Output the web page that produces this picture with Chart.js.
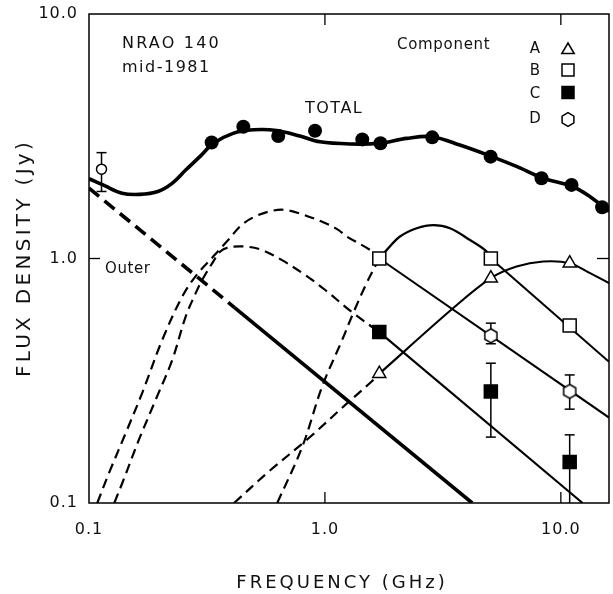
<!DOCTYPE html>
<html><head><meta charset="utf-8">
<script src="https://cdn.jsdelivr.net/npm/chart.js@4.4.1/dist/chart.umd.min.js"></script>
<style>html,body{margin:0;padding:0;background:#fff}#wrap{width:613px;height:594px;position:relative}</style>
</head><body><div id="wrap"><canvas id="c" width="613" height="594"></canvas></div>
<script>
// ---- axis ticks ----
const xTickValues = [0.1, 1, 10];
const xTickLabels = ['0.1', '1.0', '10.0'];
const yTickValues = [0.1, 1, 10];
const yTickLabels = ['0.1', '1.0', '10.0'];

// ---- TOTAL measurements (filled circles) ----
const totalFreq = [0.331, 0.451, 0.634, 0.908, 1.44, 1.72, 2.85, 5.04, 8.28, 11.1, 14.96];
const totalFlux = [2.98, 3.46, 3.17, 3.33, 3.07, 2.96, 3.13, 2.61, 2.13, 2.00, 1.62];
// low-frequency open circle with error bar
const lowFreq = [0.113];
const lowFlux = [2.32];
const lowErrLo = [1.88];
const lowErrHi = [2.71];

// ---- TOTAL model curve ----
const totalCurveFreq = [0.1, 0.117, 0.138, 0.164, 0.196, 0.225, 0.257, 0.295, 0.337, 0.408, 0.497, 0.624, 0.783, 0.953, 1.28, 1.71, 2.22, 2.85, 3.73, 5.0, 6.49, 8.41, 11.2, 13.3, 16.0];
const totalCurveFlux = [2.12, 1.98, 1.85, 1.83, 1.88, 2.03, 2.30, 2.61, 2.96, 3.25, 3.36, 3.34, 3.17, 3.00, 2.94, 2.96, 3.10, 3.15, 2.91, 2.63, 2.38, 2.13, 1.97, 1.79, 1.56];

// ---- Outer component ----
const outerDashFreq = [0.1, 0.414];
const outerDashFlux = [1.94, 0.630];
const outerSolidFreq = [0.414, 4.21];
const outerSolidFlux = [0.630, 0.1];

// ---- Component A (triangles) ----
const aFreq = [1.7, 5.05, 10.9];
const aFlux = [0.338, 0.831, 0.957];
const aDashFreq = [0.412, 0.579, 0.855, 1.243, 1.578, 1.7];
const aDashFlux = [0.1, 0.1346, 0.1844, 0.256, 0.314, 0.338];
const aSolidFreq = [1.7, 3.50, 5.05, 6.49, 8.41, 10.9, 13.3, 16.0];
const aSolidFlux = [0.338, 0.627, 0.831, 0.927, 0.972, 0.957, 0.871, 0.793];

// ---- Component B (open squares) ----
const bFreq = [1.7, 5.05, 10.9];
const bFlux = [1.0, 1.0, 0.532];
const bDashFreq = [0.628, 0.802, 0.974, 1.184, 1.318, 1.502, 1.7];
const bDashFlux = [0.1, 0.170, 0.300, 0.465, 0.598, 0.793, 1.0];
const bHumpFreq = [1.7, 1.83, 2.08, 2.45, 2.88, 3.39, 4.12, 4.84, 5.05];
const bHumpFlux = [1.0, 1.085, 1.23, 1.33, 1.37, 1.33, 1.19, 1.07, 1.0];
const bLineFreq = [5.05, 16.0];
const bLineFlux = [1.0, 0.378];

// ---- Component C (filled squares) ----
const cFreq = [1.7, 5.05, 10.9];
const cFlux = [0.50, 0.286, 0.147];
const cErrFreq = [5.05, 10.9];
const cErrLo = [0.186, 0.1];
const cErrHi = [0.373, 0.19];
const cDashFreq = [0.128, 0.1384, 0.1628, 0.1917, 0.2254, 0.2569, 0.2833, 0.302, 0.333, 0.359, 0.389, 0.458, 0.539, 0.655, 0.823, 1.0, 1.318, 1.7];
const cDashFlux = [0.1, 0.1207, 0.1815, 0.2644, 0.385, 0.579, 0.722, 0.818, 0.957, 1.065, 1.109, 1.119, 1.085, 0.987, 0.857, 0.745, 0.598, 0.50];
const cSolidFreq = [1.7, 12.36];
const cSolidFlux = [0.50, 0.1];

// ---- Component D (hexagons) ----
const dFreq = [5.05, 10.9];
const dFlux = [0.483, 0.286];
const dErrLo = [0.448, 0.242];
const dErrHi = [0.544, 0.334];
const dDashFreq = [0.1084, 0.1216, 0.143, 0.168, 0.2045, 0.2484, 0.286, 0.336, 0.389, 0.4436, 0.505, 0.5945, 0.677, 0.797, 0.968, 1.139, 1.236, 1.551, 1.7];
const dDashFlux = [0.1, 0.1327, 0.193, 0.2816, 0.465, 0.699, 0.857, 1.018, 1.19, 1.372, 1.484, 1.566, 1.581, 1.518, 1.416, 1.31, 1.23, 1.085, 1.0];
const dSolidFreq = [1.7, 16.0];
const dSolidFlux = [1.0, 0.2236];

// ---- legend entries ----
const legendLetters = ['A', 'B', 'C', 'D'];
const legendSymbols = ['triangle', 'square', 'filledSquare', 'hexagon'];

const pts = (xs, ys) => xs.map((x, i) => ({x: x, y: ys[i]}));
const FONT = '"DejaVu Sans", sans-serif';

function hexPath(ctx, x, y, r) {
  ctx.beginPath();
  for (let k = 0; k < 6; k++) {
    const a = -Math.PI / 2 + k * Math.PI / 3;
    const px = x + r * Math.cos(a), py = y + r * Math.sin(a);
    if (k === 0) ctx.moveTo(px, py); else ctx.lineTo(px, py);
  }
  ctx.closePath();
}
function makeHex(r) {
  const cv = document.createElement('canvas');
  cv.width = Math.ceil(2 * r + 4); cv.height = Math.ceil(2 * r + 4);
  const g = cv.getContext('2d');
  hexPath(g, cv.width / 2, cv.height / 2, r);
  g.fillStyle = '#fff'; g.fill();
  g.lineWidth = 1.5; g.strokeStyle = '#000'; g.stroke();
  return cv;
}
const hexImg = makeHex(7);

const curve = (data, width, dash, tension) => ({
  data: data, showLine: true, pointRadius: 0, pointHoverRadius: 0,
  borderColor: '#000', backgroundColor: '#000', borderWidth: width,
  borderDash: dash || [], fill: false, tension: tension === undefined ? 0.35 : tension,
  borderCapStyle: 'butt', order: 2
});
const marks = (data, style, radius, fillColor, border) => ({
  data: data, showLine: false, pointStyle: style, pointRadius: radius, pointHoverRadius: radius,
  pointBackgroundColor: fillColor, pointBorderColor: '#000', pointBorderWidth: border, order: 0
});

function errBar(ctx, xScale, yScale, freqs, lo, hi) {
  for (let i = 0; i < freqs.length; i++) {
    const x = xScale.getPixelForValue(freqs[i]);
    const y1 = yScale.getPixelForValue(lo[i]);
    const y2 = yScale.getPixelForValue(hi[i]);
    ctx.beginPath(); ctx.moveTo(x, y1); ctx.lineTo(x, y2); ctx.stroke();
    ctx.beginPath(); ctx.moveTo(x - 5, y2); ctx.lineTo(x + 5, y2); ctx.stroke();
    if (lo[i] > yScale.min) { ctx.beginPath(); ctx.moveTo(x - 5, y1); ctx.lineTo(x + 5, y1); ctx.stroke(); }
  }
}

function txt(ctx, s, x, y, size, ls, align) {
  ctx.save();
  ctx.font = size + 'px ' + FONT;
  ctx.letterSpacing = ls + 'px';
  ctx.fillStyle = '#111';
  ctx.textAlign = align || 'left';
  ctx.textBaseline = 'alphabetic';
  ctx.fillText(s, x, y);
  ctx.restore();
}

function legendSymbol(ctx, type, x, y) {
  ctx.save();
  ctx.lineWidth = 1.5; ctx.strokeStyle = '#000';
  if (type === 'triangle') {
    ctx.beginPath(); ctx.moveTo(x, y - 7); ctx.lineTo(x + 6.2, y + 3.6); ctx.lineTo(x - 6.2, y + 3.6); ctx.closePath();
    ctx.fillStyle = '#fff'; ctx.fill(); ctx.stroke();
  } else if (type === 'square' || type === 'filledSquare') {
    ctx.beginPath(); ctx.rect(x - 6, y - 6, 12, 12);
    ctx.fillStyle = type === 'square' ? '#fff' : '#000'; ctx.fill(); ctx.stroke();
  } else {
    hexPath(ctx, x, y, 6.8); ctx.fillStyle = '#fff'; ctx.fill(); ctx.stroke();
  }
  ctx.restore();
}

const decor = {
  id: 'decor',
  beforeDraw(chart) { chart.ctx.letterSpacing = '1px'; },
  beforeDatasetsDraw(chart) {
    const ctx = chart.ctx, xs = chart.scales.x, ys = chart.scales.y;
    ctx.save();
    ctx.strokeStyle = '#000'; ctx.lineWidth = 1.5;
    errBar(ctx, xs, ys, lowFreq, lowErrLo, lowErrHi);
    errBar(ctx, xs, ys, cErrFreq, cErrLo, cErrHi);
    errBar(ctx, xs, ys, dFreq, dErrLo, dErrHi);
    ctx.restore();
  },
  afterDraw(chart) {
    const ctx = chart.ctx, a = chart.chartArea, xs = chart.scales.x, ys = chart.scales.y;
    ctx.save();
    ctx.letterSpacing = '0px';
    ctx.strokeStyle = '#000'; ctx.lineWidth = 1.5;
    ctx.strokeRect(a.left, a.top, a.right - a.left, a.bottom - a.top);
    ctx.lineWidth = 1.3;
    [1, 10].forEach(v => {
      const x = xs.getPixelForValue(v);
      ctx.beginPath(); ctx.moveTo(x, a.bottom); ctx.lineTo(x, a.bottom - 11); ctx.stroke();
      ctx.beginPath(); ctx.moveTo(x, a.top); ctx.lineTo(x, a.top + 11); ctx.stroke();
    });
    [1].forEach(v => {
      const y = ys.getPixelForValue(v);
      ctx.beginPath(); ctx.moveTo(a.left, y); ctx.lineTo(a.left + 11, y); ctx.stroke();
      ctx.beginPath(); ctx.moveTo(a.right, y); ctx.lineTo(a.right - 12, y); ctx.stroke();
    });
    ctx.restore();
    txt(ctx, 'NRAO 140', 122, 48, 16, 2.2);
    txt(ctx, 'mid-1981', 122, 72, 16, 1.5);
    txt(ctx, 'TOTAL', 305, 113, 16, 1.5);
    txt(ctx, 'Outer', 105, 273, 15, 0.6);
    txt(ctx, 'Component', 397, 49, 15, 0.7);
    const ly = [53, 75, 97.5, 123];
    const sy = [50, 70, 92.5, 119.5];
    legendLetters.forEach((L, i) => {
      txt(ctx, L, 535, ly[i], 15, 0, 'center');
      legendSymbol(ctx, legendSymbols[i], 568, sy[i]);
    });
    txt(ctx, 'FREQUENCY (GHz)', 342, 588, 18, 3, 'center');
    ctx.save();
    ctx.translate(30, 258); ctx.rotate(-Math.PI / 2);
    txt(ctx, 'FLUX DENSITY (Jy)', 0, 0, 20, 3.3, 'center');
    ctx.restore();
    ctx.letterSpacing = '0px';
  }
};

const hiddenGrid = (len) => ({display: true, drawOnChartArea: false, drawTicks: true, tickLength: len,
  color: 'rgba(0,0,0,0)', tickColor: 'rgba(0,0,0,0)'});

new Chart(document.getElementById('c'), {
  type: 'scatter',
  data: {
    datasets: [
      marks(pts(totalFreq, totalFlux), 'circle', 7, '#000', 0),
      marks(pts(lowFreq, lowFlux), 'circle', 5, '#fff', 1.5),
      marks(pts(aFreq, aFlux), 'triangle', 7.5, '#fff', 1.5),
      marks(pts(bFreq, bFlux), 'rect', 9.2, '#fff', 1.5),
      marks(pts(cFreq, cFlux), 'rect', 9.2, '#000', 1.5),
      marks(pts(dFreq, dFlux), hexImg, 7, '#fff', 1.5),
      curve(pts(totalCurveFreq, totalCurveFlux), 3.6),
      curve(pts(outerDashFreq, outerDashFlux), 3.6, [13, 7], 0),
      curve(pts(outerSolidFreq, outerSolidFlux), 3.6, [], 0),
      curve(pts(aDashFreq, aDashFlux), 2.2, [10, 6]),
      curve(pts(aSolidFreq, aSolidFlux), 2.1),
      curve(pts(bDashFreq, bDashFlux), 2.2, [10, 6]),
      curve(pts(bHumpFreq, bHumpFlux), 2.3),
      curve(pts(bLineFreq, bLineFlux), 2.1, [], 0),
      curve(pts(cDashFreq, cDashFlux), 2.2, [10, 6]),
      curve(pts(cSolidFreq, cSolidFlux), 2.1, [], 0),
      curve(pts(dDashFreq, dDashFlux), 2.2, [10, 6]),
      curve(pts(dSolidFreq, dSolidFlux), 2.1, [], 0)
    ]
  },
  options: {
    responsive: false, animation: false, devicePixelRatio: 1,
    layout: {autoPadding: false, padding: {left: 0, top: 14, right: 4, bottom: 0}},
    plugins: {legend: {display: false}, tooltip: {enabled: false}},
    scales: {
      x: {
        type: 'logarithmic', min: 0.1, max: 16,
        grid: hiddenGrid(17), border: {display: false},
        afterBuildTicks: s => { s.ticks = xTickValues.map(v => ({value: v})); },
        afterFit: s => { s.height = 91; s.paddingLeft = 0; s.paddingRight = 0; },
        ticks: {autoSkip: false, maxRotation: 0, padding: 0, color: '#111',
          font: {family: FONT, size: 16}, callback: (v, i) => xTickLabels[i]}
      },
      y: {
        type: 'logarithmic', min: 0.1, max: 10,
        grid: hiddenGrid(11), border: {display: false},
        afterBuildTicks: s => { s.ticks = yTickValues.map(v => ({value: v})); },
        afterFit: s => { s.width = 89; s.paddingTop = 0; s.paddingBottom = 0; },
        ticks: {autoSkip: false, padding: 0, color: '#111',
          font: {family: FONT, size: 16}, callback: (v, i) => yTickLabels[i]}
      }
    }
  },
  plugins: [decor]
});
</script></body></html>
